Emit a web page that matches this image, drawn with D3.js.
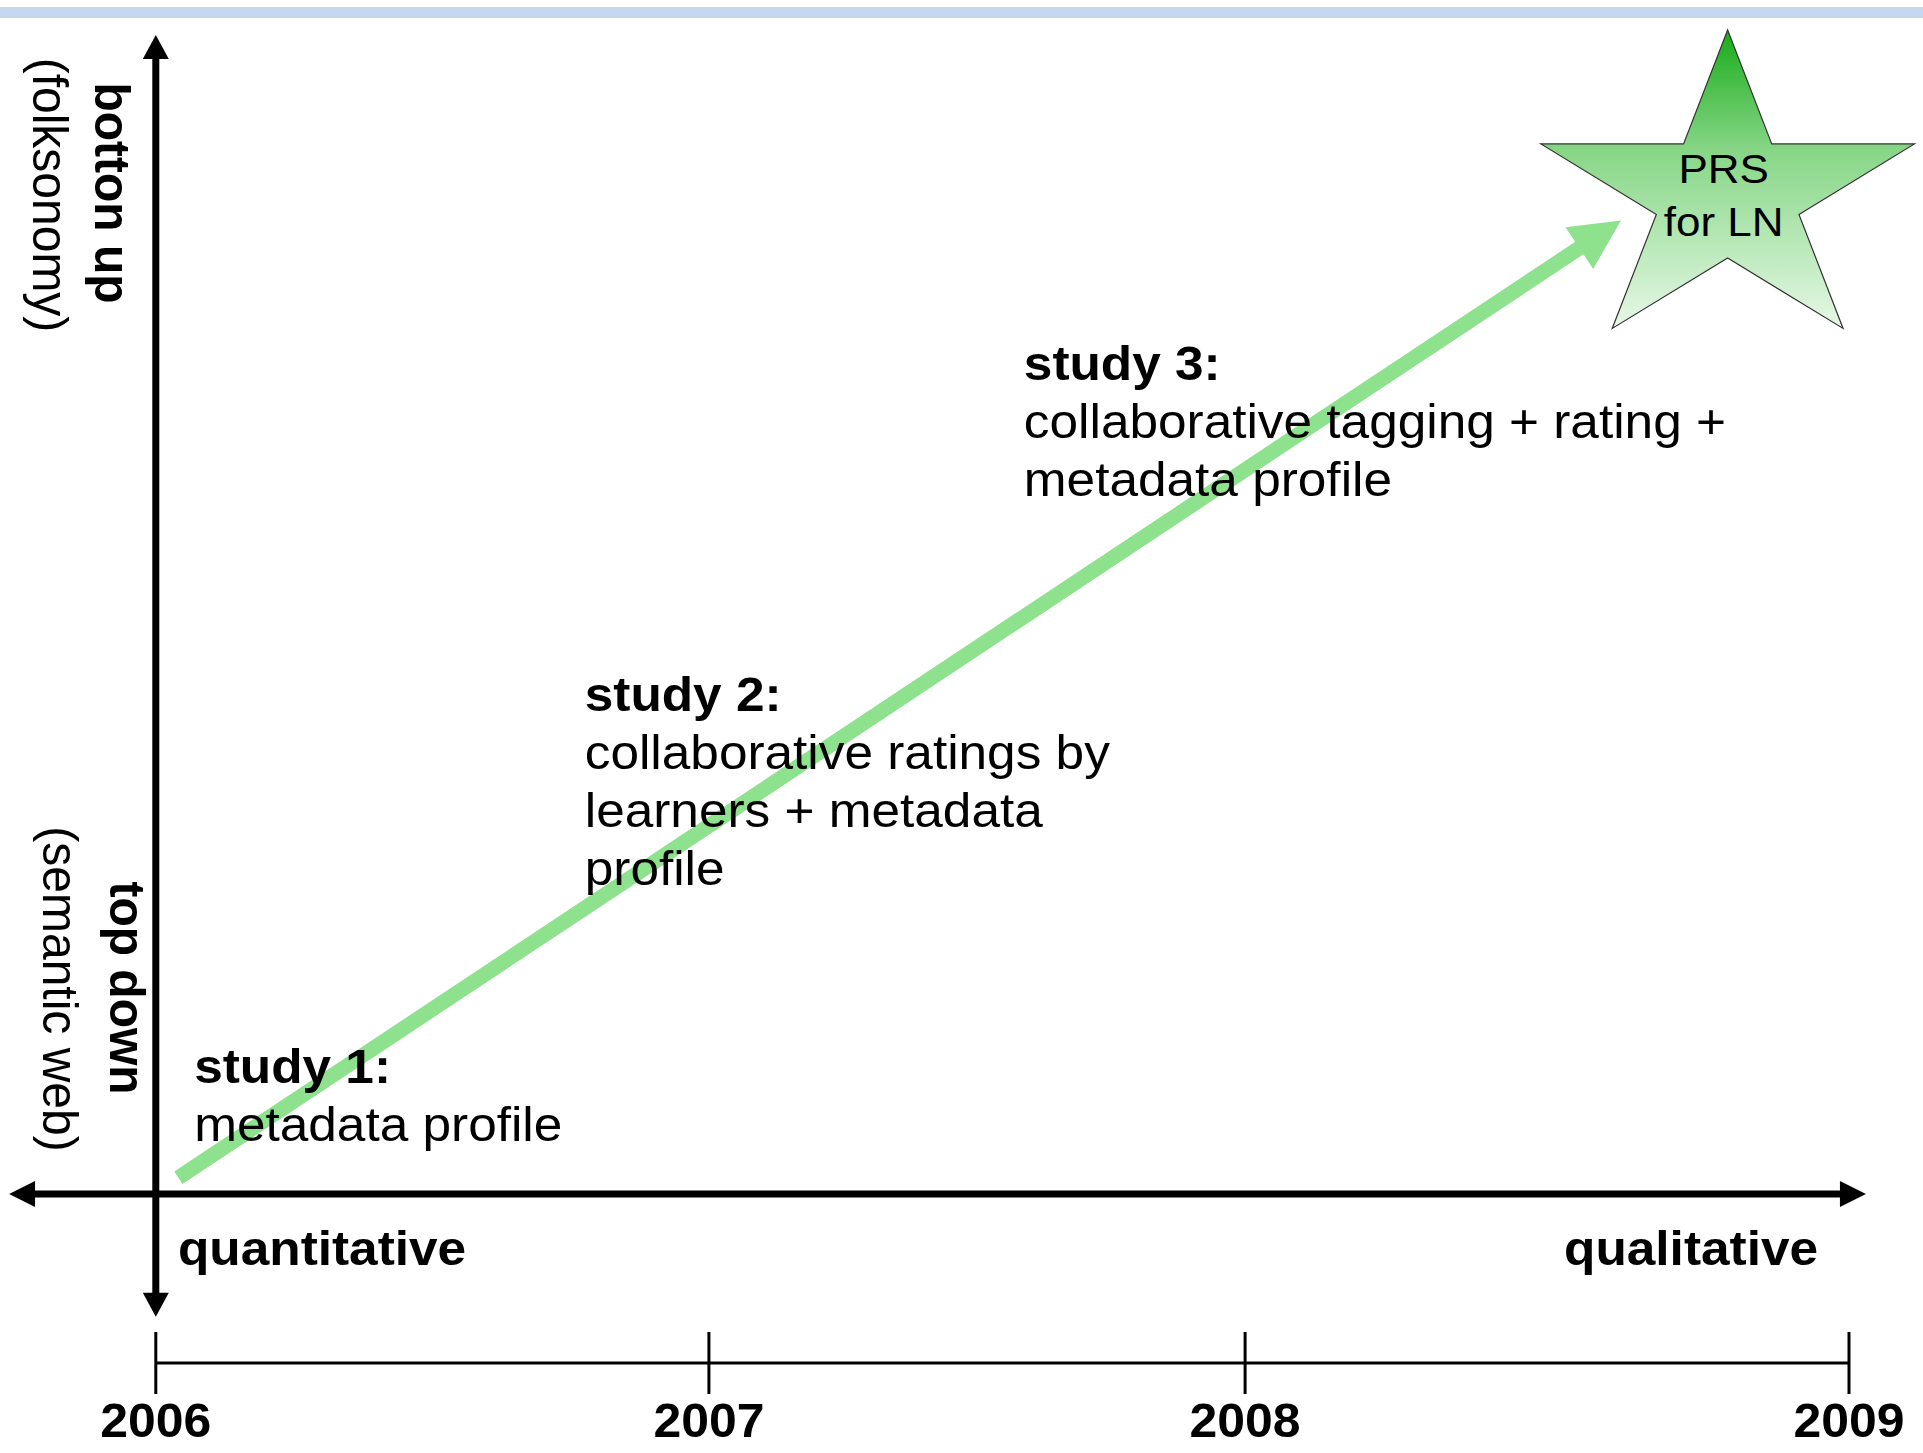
<!DOCTYPE html>
<html><head><meta charset="utf-8">
<script src="https://cdn.jsdelivr.net/npm/d3@7"></script>
<style>
body{margin:0;background:#fff}
svg{display:block}
text{font-family:"Liberation Sans",Arial,Helvetica,sans-serif;fill:#000}
</style>
</head><body><svg id="c" width="1923" height="1453"></svg>
<script>
// ---------- data ----------
const years = ["2006", "2007", "2008", "2009"];
const yearPos = [2006, 2006.98, 2007.93, 2009];           // tick positions on the time axis
const studyTitles = ["study 1:", "study 2:", "study 3:"];
const studyLines = [
  ["metadata profile"],
  ["collaborative ratings by", "learners + metadata", "profile"],
  ["collaborative tagging + rating +", "metadata profile"]
];
const studyTime = [2006.068, 2006.76, 2007.538];          // label anchor (time)
const studyLevel = [0.096, 0.417, 0.702];                 // label anchor (0 = top down, 1 = bottom up)
const trendFrom = [2006.04, 0.014];                       // green arrow start [time, level]
const trendTo = [2008.596, 0.84];                         // green arrow tip
const goalPos = [2008.785, 0.862];                        // star centre
const goalLabel = ["PRS", "for LN"];
const xAxisLabels = ["quantitative", "qualitative"];
const yAxisTop = ["botton up", "(folksonomy)"];
const yAxisBottom = ["top down", "(semantic web)"];
const axisTimeExtent = [2005.74, 2009.03];
const axisLevelExtent = [-0.106, 1];

// ---------- layout ----------
const W = 1923, H = 1453;
const svg = d3.select("#c");
const x = d3.scaleLinear().domain([2006, 2009]).range([155.8, 1849]);
const y = d3.scaleLinear().domain([0, 1]).range([1194, 35]);
const FS = 48, SX = 1.07, LH = 58;
const timelineY = 1363;

// top band
svg.append("rect").attr("x", 0).attr("y", 7).attr("width", W).attr("height", 11).attr("fill", "#c6d8ef");

// ---------- black axes with arrowheads ----------
function arrowHead(g, tipX, tipY, dx, dy, len, half, fill) {
  const bx = tipX - dx * len, by = tipY - dy * len;
  const px = -dy, py = dx;
  g.append("path")
    .attr("d", `M${tipX},${tipY}L${bx + px * half},${by + py * half}L${bx - px * half},${by - py * half}Z`)
    .attr("fill", fill);
}
const ax = svg.append("g");
const x0 = x(axisTimeExtent[0]), x1 = x(axisTimeExtent[1]);
const y0 = y(axisLevelExtent[0]), y1 = y(axisLevelExtent[1]);
const cx = x(2006), cy = y(0);
ax.append("line").attr("x1", x0 + 20).attr("x2", x1 - 20).attr("y1", cy).attr("y2", cy)
  .attr("stroke", "#000").attr("stroke-width", 7);
ax.append("line").attr("x1", cx).attr("x2", cx).attr("y1", y1 + 20).attr("y2", y0 - 20)
  .attr("stroke", "#000").attr("stroke-width", 7);
arrowHead(ax, x1, cy, 1, 0, 26, 13, "#000");
arrowHead(ax, x0, cy, -1, 0, 26, 13, "#000");
arrowHead(ax, cx, y1, 0, -1, 24, 13, "#000");
arrowHead(ax, cx, y0, 0, 1, 24, 13, "#000");

// ---------- timeline axis ----------
const tl = svg.append("g");
tl.append("line").attr("x1", x(2006)).attr("x2", x(2009)).attr("y1", timelineY).attr("y2", timelineY)
  .attr("stroke", "#000").attr("stroke-width", 3);
tl.selectAll(".tick").data(yearPos).enter().append("line")
  .attr("x1", d => x(d)).attr("x2", d => x(d))
  .attr("y1", timelineY - 31).attr("y2", timelineY + 31)
  .attr("stroke", "#000").attr("stroke-width", 3);
tl.selectAll(".yl").data(years).enter().append("text")
  .attr("transform", (d, i) => `translate(${x(yearPos[i])},${timelineY + 74}) scale(1.04,1)`)
  .attr("text-anchor", "middle").attr("font-size", FS).attr("font-weight", "bold")
  .text(d => d);

// ---------- green trend arrow ----------
(function () {
  const sx = x(trendFrom[0]), sy = y(trendFrom[1]);
  const tx = x(trendTo[0]), ty = y(trendTo[1]);
  const L = Math.hypot(tx - sx, ty - sy), ux = (tx - sx) / L, uy = (ty - sy) / L;
  const px = -uy, py = ux;
  const hl = 50, hw = 25, sw = 7.5;
  const bx = tx - ux * hl, by = ty - uy * hl;
  const pts = [
    [sx + px * sw, sy + py * sw], [bx + px * sw, by + py * sw], [bx + px * hw, by + py * hw],
    [tx, ty],
    [bx - px * hw, by - py * hw], [bx - px * sw, by - py * sw], [sx - px * sw, sy - py * sw]
  ];
  svg.append("path").attr("d", d3.line()(pts) + "Z").attr("fill", "#8ee28e");
})();

// ---------- star ----------
const defs = svg.append("defs");
const gr = defs.append("linearGradient").attr("id", "sg").attr("x1", 0).attr("y1", 0).attr("x2", 0).attr("y2", 1);
gr.append("stop").attr("offset", "0%").attr("stop-color", "#18ab18");
gr.append("stop").attr("offset", "40%").attr("stop-color", "#86d686");
gr.append("stop").attr("offset", "100%").attr("stop-color", "#e6f8e6");
const starR = 165;
svg.append("path")
  .attr("d", d3.symbol(d3.symbolStar, starR * starR / 0.8908130915292852)())
  .attr("transform", `translate(${x(goalPos[0])},${y(goalPos[1])}) scale(1.19,1)`)
  .attr("fill", "url(#sg)").attr("stroke", "#333").attr("stroke-width", 1.2)
  .attr("vector-effect", "non-scaling-stroke");
svg.selectAll(".gl").data(goalLabel).enter().append("text")
  .attr("transform", (d, i) => `translate(${x(goalPos[0]) - 4},${y(goalPos[1]) - 12 + i * 53}) scale(1.1,1)`)
  .attr("text-anchor", "middle").attr("font-size", 40).text(d => d);

// ---------- study labels ----------
studyTitles.forEach((t, i) => {
  const g = svg.append("text")
    .attr("transform", `translate(${x(studyTime[i])},${y(studyLevel[i])}) scale(${SX},1)`)
    .attr("font-size", FS);
  g.append("tspan").attr("x", 0).attr("y", 0).attr("font-weight", "bold").text(t);
  studyLines[i].forEach((l, j) => {
    g.append("tspan").attr("x", 0).attr("y", (j + 1) * LH).text(l);
  });
});

// ---------- axis labels ----------
svg.append("text").attr("transform", `translate(178,1265) scale(${SX},1)`)
  .attr("font-size", FS).attr("font-weight", "bold").text(xAxisLabels[0]);
svg.append("text").attr("transform", `translate(1818,1265) scale(${SX},1)`)
  .attr("text-anchor", "end").attr("font-size", FS).attr("font-weight", "bold").text(xAxisLabels[1]);

function vtext(txt, bx, cyy, bold) {
  svg.append("text").attr("transform", `translate(${bx},${cyy}) rotate(90) scale(1,1.05)`)
    .attr("text-anchor", "middle").attr("font-size", FS)
    .attr("font-weight", bold ? "bold" : "normal").text(txt);
}
vtext(yAxisTop[0], 95, 193, true);
vtext(yAxisTop[1], 33, 195, false);
vtext(yAxisBottom[0], 110, 988, true);
vtext(yAxisBottom[1], 43, 989, false);
</script>
</body></html>
